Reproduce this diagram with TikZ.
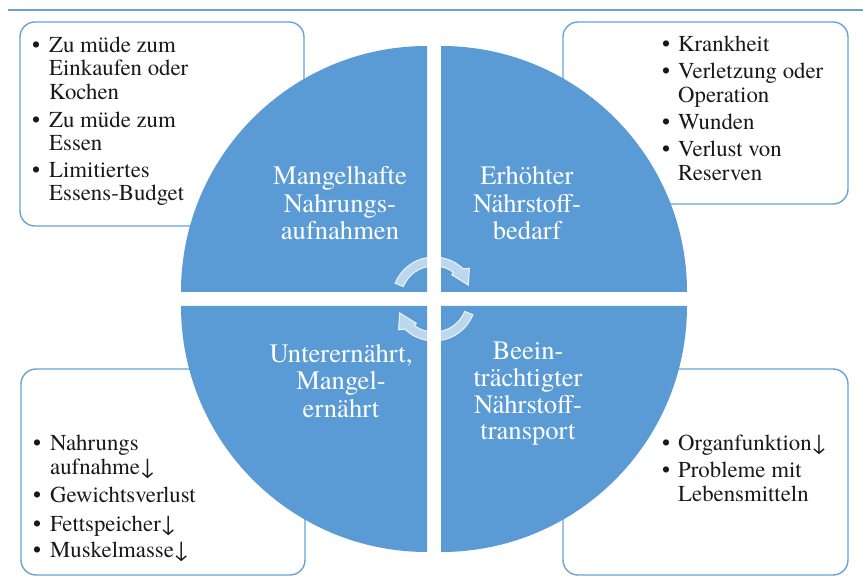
\documentclass[tikz,border=0pt]{standalone}
\usepackage{fontspec}
\setmainfont{TeX Gyre Termes}
\definecolor{segblue}{HTML}{5B9BD5}
\definecolor{frameblue}{HTML}{6AA2D8}
\newcommand\itemdot[1][17pt]{\makebox[#1][l]{\textbullet}}

\begin{document}
\begin{tikzpicture}[x=1pt,y=-1pt,
  listbox/.style={draw=frameblue, line width=1.4pt, rounded corners=15pt, fill=white},
  segment/.style={fill=segblue},
  boxline/.style={anchor=base west, inner sep=0pt, font=\fontsize{22.8}{24}\selectfont, text=black!90},
  segline/.style={anchor=base, inner sep=0pt, font=\fontsize{26.6}{27}\selectfont, text=white},
  cyclearrow/.style={fill=white, fill opacity=0.6, draw=white, draw opacity=0.8, line width=1pt}]

\useasboundingbox (0,0) rectangle (863,577);
\fill[white] (0,0) rectangle (863,577);

% header rule
\draw[frameblue, line width=2pt] (8,10) -- (863,10);

% the four list boxes (drawn first, the circle overlaps them)
\draw[listbox] (20,22) rectangle (304,226);
\draw[listbox] (563,22) rectangle (848,204);
\draw[listbox] (21,369) rectangle (305,575);
\draw[listbox] (563,369) rectangle (848,575);

% four quarter segments of the circle
\fill[segment] (427,292) -- ++(180:246) arc[start angle=180, end angle=270, radius=246] -- cycle;
\fill[segment] (441,292) -- ++(270:246) arc[start angle=270, end angle=360, radius=246] -- cycle;
\fill[segment] (427,306) -- ++(90:246) arc[start angle=90, end angle=180, radius=246] -- cycle;
\fill[segment] (441,306) -- ++(0:246) arc[start angle=0, end angle=90, radius=246] -- cycle;

% circular arrows in the centre
\foreach \rot in {0,180}{
  \begin{scope}[shift={(434,299)}, rotate=\rot]
    \draw[cyclearrow] (202:42) arc[start angle=202, end angle=314, radius=42]
      -- (319:47) -- (338:37) -- (306:30) -- (306:33)
      arc[start angle=306, end angle=202, radius=33] -- cycle;
  \end{scope}
}

% segment labels
\node[segline] (q1a) at (340,185) {Mangelhafte};
\node[segline] (q1b) at (340,213) {Nahrungs-};
\node[segline] (q1c) at (340,240) {aufnahmen};

\node[segline] (q2a) at (527,185) {Erhöhter};
\node[segline] (q2b) at (527,213) {Nährstoff-};
\node[segline] (q2c) at (527,240) {bedarf};

\node[segline] (q3a) at (341,363) {Unterernährt,};
\node[segline] (q3b) at (341,390) {Mangel-};
\node[segline] (q3c) at (341,418) {ernährt};

\node[segline] (q4a) at (528,360) {Beein-};
\node[segline] (q4b) at (528,387) {trächtigter};
\node[segline] (q4c) at (528,414) {Nährstoff-};
\node[segline] (q4d) at (528,440) {transport};

% upper left list
\node[boxline] (a1) at (32,53)  {\itemdot Zu müde zum};
\node[boxline] (a2) at (49,76)  {Einkaufen oder};
\node[boxline] (a3) at (49,100) {Kochen};
\node[boxline] (a4) at (32,128) {\itemdot Zu müde zum};
\node[boxline] (a5) at (49,151) {Essen};
\node[boxline] (a6) at (32,178) {\itemdot Limitiertes};
\node[boxline] (a7) at (49,201) {Essens-Budget};

% upper right list
\node[boxline] (b1) at (662,52)    {\itemdot[16pt]Krankheit};
\node[boxline] (b2) at (662,79)    {\itemdot[16pt]Verletzung oder};
\node[boxline] (b3) at (678,102.5) {Operation};
\node[boxline] (b4) at (662,130)   {\itemdot[16pt]Wunden};
\node[boxline] (b5) at (662,157)   {\itemdot[16pt]Verlust von};
\node[boxline] (b6) at (678,180.5) {Reserven};

% lower left list
\node[boxline] (c1) at (33,451) {\itemdot Nahrungs};
\node[boxline] (c2) at (50,475) {aufnahme↓};
\node[boxline] (c3) at (33,503) {\itemdot Gewichtsverlust};
\node[boxline] (c4) at (33,531) {\itemdot Fettspeicher↓};
\node[boxline] (c5) at (33,558) {\itemdot Muskelmasse↓};

% lower right list
\node[boxline] (d1) at (662,450)   {\itemdot[16pt]Organfunktion↓};
\node[boxline] (d2) at (662,478)   {\itemdot[16pt]Probleme mit};
\node[boxline] (d3) at (678,501.5) {Lebensmitteln};

\end{tikzpicture}
\end{document}
